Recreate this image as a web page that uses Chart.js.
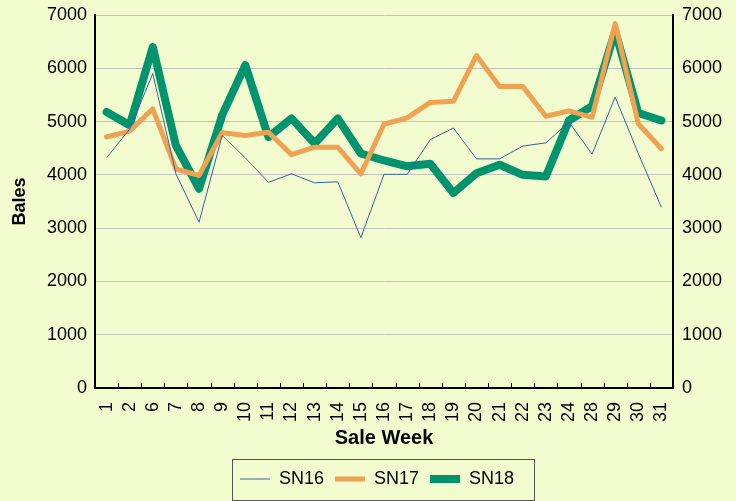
<!DOCTYPE html>
<html>
<head>
<meta charset="utf-8">
<script src="https://cdn.jsdelivr.net/npm/chart.js@4/dist/chart.umd.min.js"></script>
<style>
  html, body { margin: 0; padding: 0; background: #f3fccf; }
  #wrap { width: 736px; height: 501px; }
</style>
</head>
<body>
<div id="wrap"><canvas id="myChart" width="736" height="501"></canvas></div>
<script>
// Sale weeks and bales per season
const weeks = ['1', '2', '6', '7', '8', '9', '10', '11', '12', '13', '14', '15', '16', '17', '18', '19', '20', '21', '22', '23', '24', '28', '29', '30', '31'];
const sn16 = [4320, 4860, 5900, 4020, 3110, 4740, 4320, 3860, 4020, 3850, 3870, 2820, 4010, 4010, 4660, 4880, 4300, 4300, 4540, 4600, 4990, 4390, 5460, 4400, 3390];
const sn17 = [4710, 4820, 5240, 4110, 3990, 4790, 4740, 4800, 4380, 4520, 4520, 4020, 4950, 5070, 5360, 5380, 6240, 5660, 5660, 5100, 5200, 5080, 6840, 4960, 4490];
const sn18 = [5180, 4930, 6400, 4550, 3740, 5120, 6060, 4710, 5060, 4590, 5060, 4400, 4270, 4160, 4210, 3660, 4030, 4190, 4000, 3970, 5020, 5290, 6700, 5160, 5020];
const yTicks = [0, 1000, 2000, 3000, 4000, 5000, 6000, 7000];

const bg = '#f3fccf';
const font = 'Liberation Sans, Arial, sans-serif';

// inward tick marks on the category axis + border round the legend
const extras = {
    id: 'extras',
    afterLayout(chart) {
        // centre the legend under the plot rather than the canvas
        const lg = chart.legend;
        if (lg) { lg.left += 9; lg.right += 9; }
    },
    beforeDraw(chart) {
        const c = chart.ctx;
        c.save();
        c.fillStyle = bg;
        c.fillRect(0, 0, chart.width, chart.height);
        c.restore();
    },
    afterDraw(chart) {
        const c = chart.ctx;
        const x = chart.scales.x;
        c.save();
        c.strokeStyle = '#000';
        c.lineWidth = 1;
        for (let i = 0; i <= weeks.length; i++) {
            const px = Math.round(x.getPixelForValue(i - 0.5)) + 0.5;
            c.beginPath();
            c.moveTo(px, x.top);
            c.lineTo(px, x.top - 5);
            c.stroke();
        }
        const lg = chart.legend;
        if (lg && lg.legendHitBoxes.length) {
            const boxes = lg.legendHitBoxes;
            const l = Math.min(...boxes.map(b => b.left)) - 8;
            const r = Math.max(...boxes.map(b => b.left + b.width)) + 20;
            const t = boxes[0].top - 11;
            const b = boxes[0].top + boxes[0].height + 12;
            c.strokeStyle = '#555';
            c.lineWidth = 1;
            c.strokeRect(Math.round(l) + 0.5, Math.round(t) + 0.5, Math.round(r - l), Math.round(b - t));
        }
        c.restore();
    }
};

const ctx = document.getElementById('myChart').getContext('2d');
const yAxis = (pos) => ({
    position: pos,
    min: 0,
    max: 7000,
    afterBuildTicks: (s) => { s.ticks = yTicks.map(v => ({ value: v })); },
    afterFit: (s) => {
        s.width = pos === 'left' ? 95 : 63;
        s.paddingTop = 0;
        s.paddingBottom = 0;
    },
    grid: { display: pos === 'left', color: '#c2c2c2', lineWidth: 1, drawTicks: false },
    border: { display: true, color: '#000', width: 2 },
    ticks: { color: '#000', font: { family: font, size: 18 }, padding: pos === 'left' ? 8 : 9, callback: (v) => String(v) },
    title: pos === 'left'
        ? { display: true, text: 'Bales', color: '#000', font: { family: font, size: 18, weight: 'bold' }, padding: { top: 9, bottom: 0 } }
        : { display: false }
});

new Chart(ctx, {
    type: 'line',
    data: {
        labels: weeks,
        datasets: [
            { label: 'SN16', data: sn16, borderColor: '#3a60a8', backgroundColor: '#3a60a8', borderWidth: 1, pointRadius: 0, tension: 0, yAxisID: 'y' },
            { label: 'SN17', data: sn17, borderColor: '#f0a152', backgroundColor: '#f0a152', borderWidth: 5, pointRadius: 0, tension: 0, borderJoinStyle: 'round', borderCapStyle: 'round', yAxisID: 'y' },
            { label: 'SN18', data: sn18, borderColor: '#00946e', backgroundColor: '#00946e', borderWidth: 8, pointRadius: 0, tension: 0, borderJoinStyle: 'round', borderCapStyle: 'round', yAxisID: 'y' }
        ]
    },
    options: {
        responsive: false,
        animation: false,
        layout: { padding: { top: 15, left: 0, right: 0, bottom: 3 } },
        plugins: {
            legend: {
                position: 'bottom',
                labels: {
                    usePointStyle: true,
                    pointStyle: 'line',
                    pointStyleWidth: 30,
                    padding: 11,
                    color: '#000',
                    font: { family: font, size: 18 }
                }
            },
            tooltip: { enabled: false }
        },
        scales: {
            x: {
                offset: true,
                afterFit: (s) => { s.height = 71; },
                grid: { display: false },
                border: { display: true, color: '#000', width: 2 },
                ticks: { color: '#000', font: { family: font, size: 18 }, maxRotation: 90, minRotation: 90, padding: 6, autoSkip: false },
                title: { display: true, text: 'Sale Week', color: '#000', font: { family: font, size: 20, weight: 'bold' }, padding: { top: 0, bottom: 9 } }
            },
            y: yAxis('left'),
            y2: yAxis('right')
        }
    },
    plugins: [extras]
});
</script>
</body>
</html>
